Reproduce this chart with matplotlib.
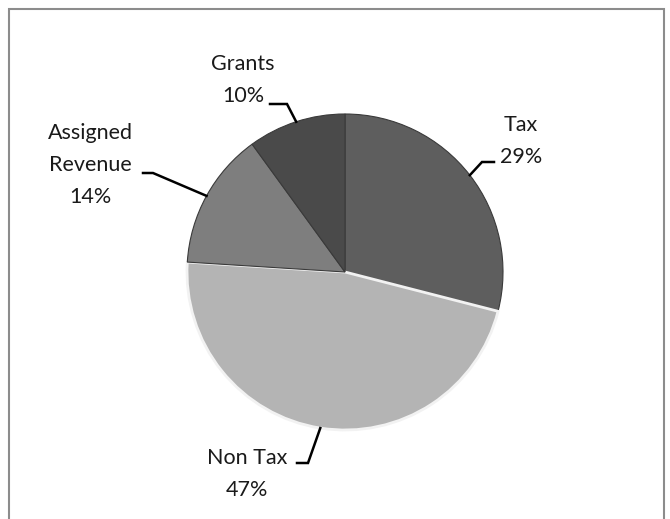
import matplotlib.pyplot as plt
import matplotlib.patches as mpatches
import numpy as np

# revenue shares, clockwise from 12 o'clock
categories = ["Tax", "Non Tax", "Assigned\nRevenue", "Grants"]
shares = [29, 47, 14, 10]
colors = ["#5e5e5e", "#b4b4b4", "#7e7e7e", "#4a4a4a"]

W, H = 670, 519
fig = plt.figure(figsize=(W / 100, H / 100), dpi=100)
ax = fig.add_axes([0, 0, 1, 1])

cx, cy, r = 345, H - 272, 158
wedges, _ = ax.pie(shares, colors=colors, startangle=90, counterclock=False,
                   center=(cx, cy), radius=r, frame=True,
                   wedgeprops=dict(edgecolor="#3a3a3a", linewidth=0.8))
ax.set_xlim(0, W)
ax.set_ylim(0, H)
ax.set_aspect("equal")
ax.axis("off")

# outer chart border (pixel coords, y up)
ax.add_patch(mpatches.Rectangle((9, -5), 655, H - 9 + 5, fill=False,
                                edgecolor="#8c8c8c", linewidth=1.5))

# light highlight on the big slice edge
wedges[1].set_edgecolor("#f2f2f2")
wedges[1].set_linewidth(2.0)

# label layout: text centre (x, y from top), leader elbow and tail
label_pos = [(521, 141), (247, 474), (90, 165), (243, 80)]
elbow = [(482, 162), (308, 463), (153, 173), (287, 104)]
tail = [(494, 162), (297, 463), (143, 173), (270, 104)]

for w, lbl, val, (tx, ty), (ex, ey), (hx, hy) in zip(wedges, categories, shares,
                                                     label_pos, elbow, tail):
    ang = np.deg2rad((w.theta1 + w.theta2) / 2)
    px, py = cx + r * np.cos(ang), cy + r * np.sin(ang)
    ax.plot([px, ex, hx], [py, H - ey, H - hy], color="black", lw=1.8,
            solid_joinstyle="miter")
    ax.text(tx, H - ty, f"{lbl}\n{val}%", ha="center", va="center",
            fontsize=15.5, family="Lato", color="#1a1a1a", linespacing=1.75)

fig.savefig("out.png", dpi=100)
